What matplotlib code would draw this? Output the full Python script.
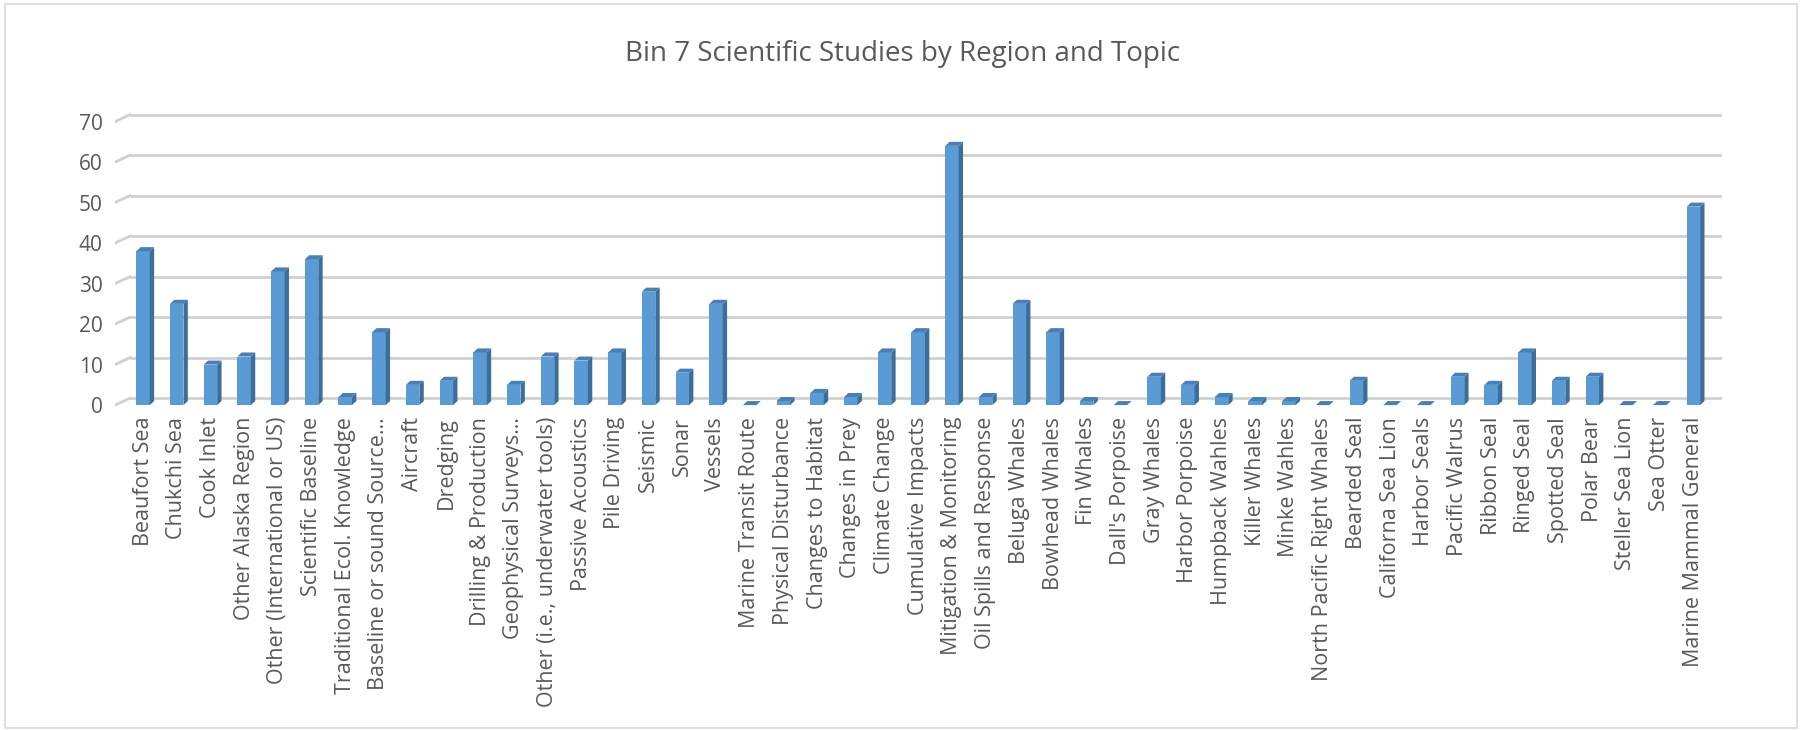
import numpy as np
import matplotlib
matplotlib.use("Agg")
import matplotlib.pyplot as plt
from matplotlib.patches import Polygon, Rectangle

# Data
topics = ["Beaufort Sea", "Chukchi Sea", "Cook Inlet", "Other Alaska Region",
          "Other (International or US)", "Scientific Baseline",
          "Traditional Ecol. Knowledge", "Baseline or sound Source…", "Aircraft",
          "Dredging", "Drilling & Production", "Geophysical Surveys…",
          "Other (i.e., underwater tools)", "Passive Acoustics", "Pile Driving",
          "Seismic", "Sonar", "Vessels", "Marine Transit Route",
          "Physical Disturbance", "Changes to Habitat", "Changes in Prey",
          "Climate Change", "Cumulative Impacts", "Mitigation & Monitoring",
          "Oil Spills and Response", "Beluga Whales", "Bowhead Whales",
          "Fin Whales", "Dall's Porpoise", "Gray Whales", "Harbor Porpoise",
          "Humpback Wahles", "Killer Whales", "Minke Wahles",
          "North Pacific Right Whales", "Bearded Seal", "Californa Sea Lion",
          "Harbor Seals", "Pacific Walrus", "Ribbon Seal", "Ringed Seal",
          "Spotted Seal", "Polar Bear", "Steller Sea Lion", "Sea Otter",
          "Marine Mammal General"]
counts = [38, 25, 10, 12, 33, 36, 2, 18, 5, 6, 13, 5, 12, 11, 13, 28, 8, 25,
          0, 1, 3, 2, 13, 18, 64, 2, 25, 18, 1, 0, 7, 5, 2, 1, 1, 0, 6, 0, 0,
          7, 5, 13, 6, 7, 0, 0, 49]
yticks = [0, 10, 20, 30, 40, 50, 60, 70]

plt.rcParams['font.family'] = ['Open Sans', 'DejaVu Sans']
grey = '#595959'

fig = plt.figure(figsize=(18.06, 7.30), dpi=100)
ax = fig.add_axes([0.0637, 0.4384, 0.8898, 0.4178])

# 3D look settings (data units)
w = 0.40      # front face width
dx = 0.13     # depth to the right
dy = 1.0      # depth upwards
d = 1.7       # front of bars sits below the back wall
x_wall = -0.39
x_left = -0.83

# back wall gridlines + little floor "feet"
for v in yticks:
    ax.plot([x_wall, 46.85], [v, v], color='#d0d0d0', lw=2, zorder=1,
            solid_capstyle='butt')
    ax.plot([x_left, x_wall], [v - d, v], color='#d0d0d0', lw=2, zorder=1)

# bars
for i, v in enumerate(counts):
    x0, x1 = i - w / 2, i + w / 2
    top = v - d
    if v > 0:
        ax.add_patch(Rectangle((x0, -d), w, v, facecolor='#5B9BD5',
                               edgecolor='none', zorder=3))
        ax.add_patch(Polygon([(x1, -d), (x1 + dx, -d + dy), (x1 + dx, top + dy),
                              (x1, top)], closed=True, facecolor='#3D6D99',
                             edgecolor='none', zorder=3))
    ax.add_patch(Polygon([(x0, top), (x1, top), (x1 + dx, top + dy),
                          (x0 + dx, top + dy)], closed=True,
                         facecolor='#4A7FB5', edgecolor='none', zorder=4))

ax.set_xlim(x_left, 46.85)
ax.set_ylim(-2.9, 72.4)

ax.set_xticks(range(len(topics)))
ax.set_xticklabels(topics, rotation=90, fontsize=15.5, color=grey)
ax.set_yticks([v - d for v in yticks])
ax.set_yticklabels([str(v) for v in yticks], fontsize=15, color=grey)
ax.tick_params(axis='x', length=0, pad=5)
ax.tick_params(axis='y', length=0, pad=9)
for s in ax.spines.values():
    s.set_visible(False)

fig.text(0.5, 0.926, "Bin 7 Scientific Studies by Region and Topic",
         ha='center', va='center', fontsize=20, color=grey)

# chart border
fig.add_artist(Rectangle((0.003, 0.003), 0.992, 0.992, transform=fig.transFigure,
                         fill=False, edgecolor='#d9d9d9', lw=1.2))

plt.savefig("out.png", dpi=100)
